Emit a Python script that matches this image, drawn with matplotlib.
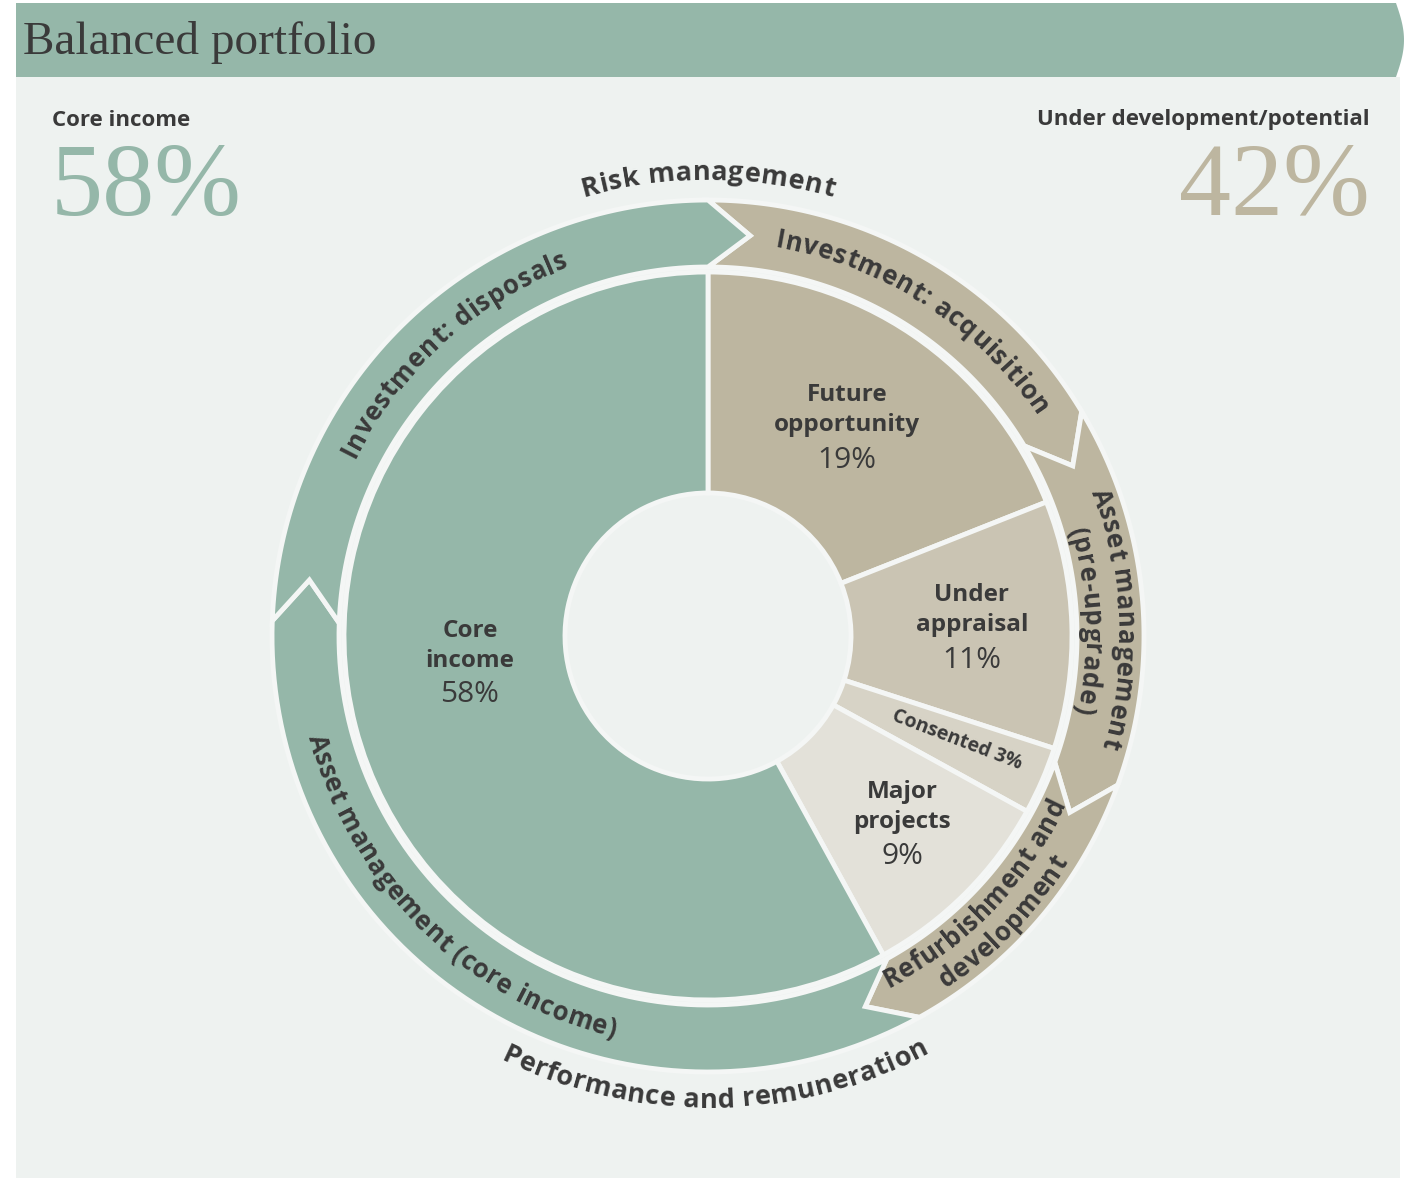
import numpy as np
import matplotlib
matplotlib.use('Agg')
import matplotlib.pyplot as plt
from matplotlib.patches import Polygon, Rectangle
from matplotlib.font_manager import FontProperties, findfont
from matplotlib.ft2font import FT2Font

# inner ring, clockwise from 12 o'clock
inner_labels = ['Future\nopportunity', 'Under\nappraisal', 'Consented', 'Major\nprojects', 'Core\nincome']
inner_values = [19, 11, 3, 9, 58]
inner_colors = ['#BDB6A0', '#CAC4B3', '#D7D3C6', '#E3E1D9', '#95B7A9']

# outer ring (arrow segments), clockwise from 12 o'clock, spans in degrees
outer_labels = ['Investment: acquisition', 'Asset management\n(pre-upgrade)',
                'Refurbishment and\ndevelopment', 'Asset management (core income)',
                'Investment: disposals']
outer_spans = [59, 51, 41, 121, 88]
outer_colors = ['#BDB6A0', '#BDB6A0', '#BDB6A0', '#95B7A9', '#95B7A9']

core_share = 58
dev_share = 42

GREEN = '#95B7A9'
TAN = '#BDB6A0'
BG = '#EEF2F0'
LINE = '#F4F6F5'
TEXT = '#3A3A3A'
SANS = 'Open Sans'
SERIF = 'Liberation Serif'

W, H = 1405, 1180
cx, cy = 708, H - 636


def Y(y):
    return H - y


def advances(s, fp):
    font = FT2Font(findfont(fp), hinting_factor=1)
    font.set_size(fp.get_size_in_points(), 100)
    out = []
    for c in s:
        g = font.load_char(ord(c))
        out.append(g.linearHoriAdvance / 65536)
    return out


def arc_text(s, r, mid, fs, outward=True, weight='bold', track=0.6):
    # characters laid on a circle; outward: reads clockwise, tops away from centre
    fp = FontProperties(family=SANS, weight=weight, size=fs)
    adv = advances(s, fp)
    total = sum(adv) + track * (len(s) - 1)
    em = fs * 100 / 72
    rb = r - 0.36 * em if outward else r + 0.36 * em
    m = np.deg2rad(mid)
    pos = 0
    for c, a in zip(s, adv):
        d = (pos + a / 2 - total / 2) / rb
        th = m - d if outward else m + d
        rot = np.rad2deg(th) - 90 if outward else np.rad2deg(th) + 90
        ax.text(cx + rb * np.cos(th), cy + rb * np.sin(th), c, rotation=rot,
                rotation_mode='anchor', ha='center', va='baseline',
                fontproperties=fp, color=TEXT)
        pos += a + track


fig = plt.figure(figsize=(W / 100, H / 100), dpi=100)
ax = fig.add_axes([0, 0, 1, 1])

# panel and header banner
ax.add_patch(Rectangle((16, Y(1178)), 1384, 1101, color=BG, lw=0, zorder=0))
t = np.linspace(0, 1, 30)
right = [(1396 + 8 * np.sin(np.pi * v), Y(3 + 74 * v)) for v in t]
ax.add_patch(Polygon([(16, Y(3))] + right + [(16, Y(77))], closed=True,
                     color=GREEN, lw=0, zorder=0))
ax.text(23, Y(42), 'Balanced portfolio', fontsize=34, family=SERIF,
        color=TEXT, va='center', ha='left')

# inner donut
R_IN, R_HOLE = 364, 143
wedges, _ = ax.pie(inner_values, colors=inner_colors, startangle=90, counterclock=False,
                   radius=R_IN, center=(cx, cy),
                   wedgeprops=dict(width=R_IN - R_HOLE, edgecolor=LINE, linewidth=3.5))

# outer arrow ring
R1, R2 = 369, 436
RM = (R1 + R2) / 2
TIP = 6
a0 = 90
for span, col in zip(outer_spans, outer_colors):
    a1 = a0 - span
    arc = np.deg2rad(np.linspace(a0, a1, 80))
    pts = [(cx + R2 * np.cos(a), cy + R2 * np.sin(a)) for a in arc]
    tip = np.deg2rad(a1 - TIP)
    pts.append((cx + RM * np.cos(tip), cy + RM * np.sin(tip)))
    pts += [(cx + R1 * np.cos(a), cy + R1 * np.sin(a)) for a in arc[::-1]]
    notch = np.deg2rad(a0 - TIP)
    pts.append((cx + RM * np.cos(notch), cy + RM * np.sin(notch)))
    ax.add_patch(Polygon(pts, closed=True, facecolor=col, edgecolor=LINE, lw=3.5, zorder=2))
    a0 = a1

# outer ring labels
FS_RING = 18.5
arc_text(outer_labels[0], 404, 57, FS_RING)
l1, l2 = outer_labels[1].split('\n')
arc_text(l1, 418, 2.5, FS_RING)
arc_text(l2, 385, 2.3, FS_RING)
l1, l2 = outer_labels[2].split('\n')
arc_text(l1, 386, -44, FS_RING, outward=False)
arc_text(l2, 416, -44, FS_RING, outward=False)
arc_text(outer_labels[3], 403, -134.5, FS_RING, outward=False)
arc_text(outer_labels[4], 404, 132, FS_RING)

arc_text('Risk management', 466, 90, 19.5, track=0.6)
arc_text('Performance and remuneration', 462, -89, 19.5, outward=False, track=0.6)

# inner labels
inner_pos = [(847, 410), (972, 610), None, (902, 807), (470, 646)]
pct_pos = [(847, 461), (972, 660), None, (902, 857), (470, 695)]
for lab, val, p, q in zip(inner_labels, inner_values, inner_pos, pct_pos):
    if p is None:
        continue
    ax.text(p[0], Y(p[1]), lab, ha='center', va='center', fontsize=17.5,
            family=SANS, weight='bold', color=TEXT, linespacing=1.35)
    ax.text(q[0], Y(q[1]), f'{val}%', ha='center', va='center', fontsize=21.5,
            family=SANS, color=TEXT)
ax.text(957, Y(740), f'{inner_labels[2]} {inner_values[2]}%', ha='center', va='center',
        rotation=-21, rotation_mode='anchor', fontsize=14, family=SANS,
        weight='bold', color=TEXT)

# headline shares
ax.text(52, Y(120), 'Core income', ha='left', va='center', fontsize=16,
        family=SANS, weight='bold', color=TEXT)
ax.text(51, Y(215), f'{core_share}%', ha='left', va='baseline', fontsize=75,
        family=SERIF, color=GREEN)
ax.text(1370, Y(120), 'Under development/potential', ha='right', va='center', fontsize=16,
        family=SANS, weight='bold', color=TEXT)
ax.text(1370, Y(215), f'{dev_share}%', ha='right', va='baseline', fontsize=75,
        family=SERIF, color=TAN)

ax.set_xlim(0, W)
ax.set_ylim(0, H)
ax.set_aspect('auto')
ax.axis('off')
fig.savefig('out.png', dpi=100, facecolor='white')
